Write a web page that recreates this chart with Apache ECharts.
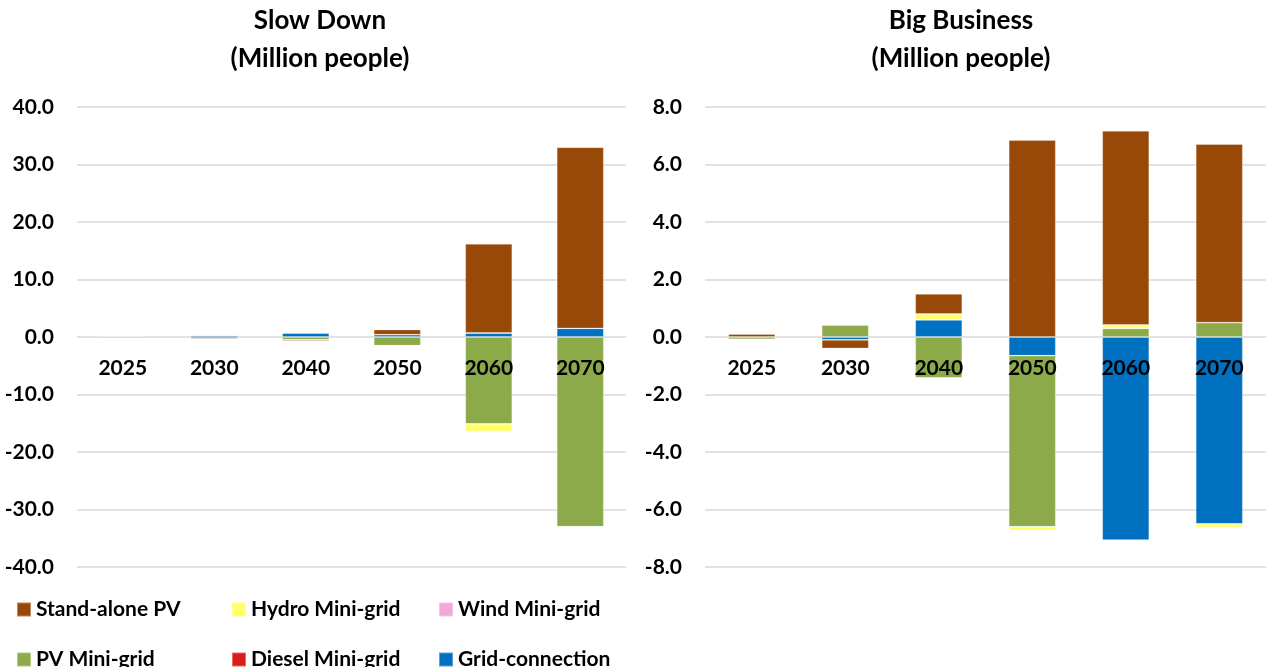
<!DOCTYPE html>
<html>
<head>
<meta charset="utf-8">
<script src="https://cdn.jsdelivr.net/npm/echarts@6/dist/echarts.min.js"></script>
<style>
  html, body { margin: 0; padding: 0; background: #ffffff; }
  #chart { width: 1270px; height: 667px; }
</style>
</head>
<body>
<div id="chart"></div>
<script>
// Category years shared by both panels
const years = ['2025', '2030', '2040', '2050', '2060', '2070'];

// Series names, in stacking order (closest to zero first)
const seriesNames = ['Grid-connection', 'Diesel Mini-grid', 'PV Mini-grid', 'Wind Mini-grid', 'Hydro Mini-grid', 'Stand-alone PV'];

// Slow Down (Million people)
const slowGrid      = [0.2, 0.3, 0.7, 0.4, 0.7, 1.5];
const slowDiesel    = [0, 0, 0, 0, 0, 0];
const slowPvMini    = [0, 0, -0.5, -1.5, -15.1, -33.0];
const slowWind      = [0, 0, 0, 0, 0, 0];
const slowHydro     = [0, 0, 0, 0, -1.3, 0];
const slowStandPv   = [-0.2, -0.3, -0.2, 0.9, 15.5, 31.5];

// Big Business (Million people)
const bigGrid       = [0, -0.1, 0.6, -0.65, -7.07, -6.5];
const bigDiesel     = [0, 0, 0, 0, 0, 0];
const bigPvMini     = [-0.08, 0.42, -1.42, -5.95, 0.3, 0.5];
const bigWind       = [0, 0, 0, 0, 0, 0];
const bigHydro      = [0, 0, 0.2, -0.13, 0.12, -0.12];
const bigStandPv    = [0.1, -0.3, 0.7, 6.85, 6.75, 6.21];

// Tick values for the two value axes
const slowTicks = { min: -40, max: 40, interval: 10 };
const bigTicks  = { min: -8, max: 8, interval: 2 };

const colors = {
  'Stand-alone PV': '#984807',
  'Hydro Mini-grid': '#FFFF66',
  'Wind Mini-grid': '#F2A7D9',
  'PV Mini-grid': '#8CAA4A',
  'Diesel Mini-grid': '#D81E18',
  'Grid-connection': '#0070C0'
};

const slowData = [slowGrid, slowDiesel, slowPvMini, slowWind, slowHydro, slowStandPv];
const bigData  = [bigGrid, bigDiesel, bigPvMini, bigWind, bigHydro, bigStandPv];

const FONT = 'Lato';
const GRID_TOP = 107;
const GRID_HEIGHT = 460;

function makeSeries(dataSets, axisIdx, stackName) {
  return seriesNames.map((name, i) => ({
    name: name,
    type: 'bar',
    stack: stackName,
    xAxisIndex: axisIdx,
    yAxisIndex: axisIdx,
    barWidth: 47,
    itemStyle: { color: colors[name], borderColor: 'rgba(255,255,255,0.35)', borderWidth: 0.8 },
    emphasis: { disabled: true },
    data: dataSets[i]
  }));
}

function valueAxis(gridIdx, ticks) {
  return {
    type: 'value',
    gridIndex: gridIdx,
    min: ticks.min,
    max: ticks.max,
    interval: ticks.interval,
    axisLine: { show: false },
    axisTick: { show: false },
    splitLine: { lineStyle: { color: '#d9d9d9', width: 1.5 } },
    axisLabel: {
      margin: 23,
      color: '#000',
      fontFamily: FONT,
      fontWeight: 'bold',
      fontSize: 21,
      formatter: v => v.toFixed(1)
    }
  };
}

// Category axis lifted from the bottom edge up to the value 0 line
function catAxis(gridIdx, ticks) {
  const zeroFromBottom = GRID_HEIGHT * (0 - ticks.min) / (ticks.max - ticks.min);
  return {
    type: 'category',
    gridIndex: gridIdx,
    data: years,
    z: 5,
    position: 'bottom',
    offset: -zeroFromBottom,
    axisLine: { show: false, onZero: false },
    axisTick: { show: false },
    axisLabel: {
      interval: 0,
      margin: 21,
      color: '#000',
      fontFamily: FONT,
      fontWeight: 'bold',
      fontSize: 21
    }
  };
}

// One legend block per entry so the columns line up
const legendPos = [
  ['Stand-alone PV', 16, 599],
  ['Hydro Mini-grid', 231, 599],
  ['Wind Mini-grid', 438, 599],
  ['PV Mini-grid', 16, 649],
  ['Diesel Mini-grid', 231, 649],
  ['Grid-connection', 438, 649]
];

const titleStyle = { fontFamily: FONT, fontWeight: 'bold', fontSize: 26, color: '#000', lineHeight: 38 };

const option = {
  animation: false,
  title: [
    { text: 'Slow Down\n(Million people)', left: 320, top: 2, padding: 0, textAlign: 'center', textStyle: titleStyle },
    { text: 'Big Business\n(Million people)', left: 961, top: 2, padding: 0, textAlign: 'center', textStyle: titleStyle }
  ],
  legend: legendPos.map(([name, x, y]) => ({
    data: [name],
    left: x,
    top: y,
    padding: 0,
    itemWidth: 14,
    itemHeight: 14,
    icon: 'rect',
    textStyle: { fontFamily: FONT, fontWeight: 'bold', fontSize: 21, color: '#000' }
  })),
  grid: [
    { left: 77, width: 549, top: GRID_TOP, height: GRID_HEIGHT },
    { left: 705, width: 561, top: GRID_TOP, height: GRID_HEIGHT }
  ],
  xAxis: [catAxis(0, slowTicks), catAxis(1, bigTicks)],
  yAxis: [valueAxis(0, slowTicks), valueAxis(1, bigTicks)],
  series: [].concat(makeSeries(slowData, 0, 'slow'), makeSeries(bigData, 1, 'big'))
};

const chart = echarts.init(document.getElementById('chart'), null, { renderer: 'canvas' });
chart.setOption(option);
</script>
</body>
</html>
